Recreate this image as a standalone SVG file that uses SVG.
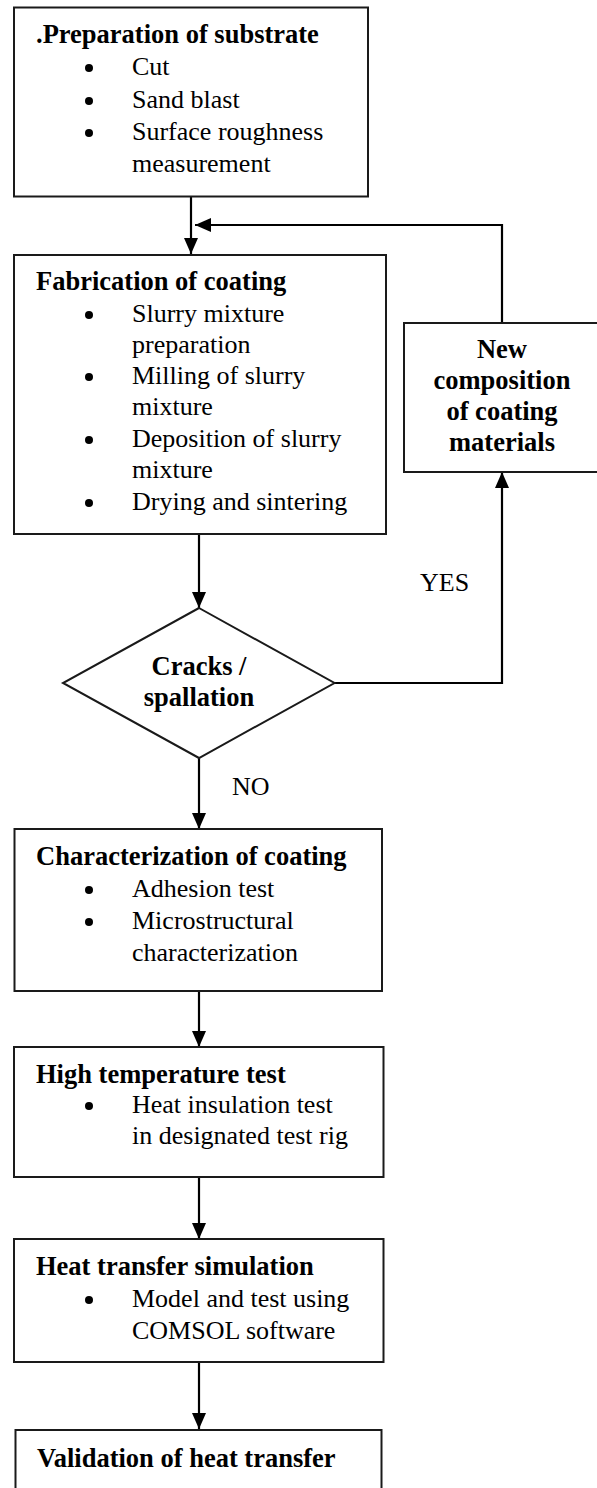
<svg xmlns="http://www.w3.org/2000/svg" width="597" height="1488" viewBox="0 0 597 1488">
<style>
.box{fill:#fff;stroke:#1a1a1a;stroke-width:2}
.ln{fill:none;stroke:#000;stroke-width:2.2}
.t{font-family:"Liberation Serif","Times New Roman",serif;font-size:26px;fill:#000}
.b{font-family:"Liberation Serif","Times New Roman",serif;font-size:26.5px;font-weight:bold;fill:#000}
.c{text-anchor:middle}
.dot{fill:#000}
</style>
<defs>
<marker id="ah" viewBox="0 0 16 14" refX="16" refY="7" markerWidth="16" markerHeight="14" markerUnits="userSpaceOnUse" orient="auto">
<path d="M0,0 L16,7 L0,14 Z" fill="#000"/>
</marker>
</defs>
<rect width="597" height="1488" fill="#fff"/>

<g id="connectors">
<line class="ln" x1="191" y1="197" x2="191" y2="254" marker-end="url(#ah)"/>
<polyline class="ln" points="502,323 502,225 195,225" marker-end="url(#ah)"/>
<line class="ln" x1="199" y1="534" x2="199" y2="608" marker-end="url(#ah)"/>
<polyline class="ln" points="334.5,683 502,683 502,472" marker-end="url(#ah)"/>
<line class="ln" x1="199" y1="758" x2="199" y2="829" marker-end="url(#ah)"/>
<line class="ln" x1="199" y1="991" x2="199" y2="1047" marker-end="url(#ah)"/>
<line class="ln" x1="199" y1="1177" x2="199" y2="1239" marker-end="url(#ah)"/>
<line class="ln" x1="199" y1="1362" x2="199" y2="1429" marker-end="url(#ah)"/>
<text class="t" x="420" y="591">YES</text>
<text class="t" x="232" y="795">NO</text>
</g>

<g id="node-preparation">
<rect class="box" x="14" y="7.5" width="354" height="189"/>
<text class="b" x="36" y="43">.Preparation of substrate</text>
<circle class="dot" cx="89" cy="68" r="4"/>
<text class="t" x="132" y="75">Cut</text>
<circle class="dot" cx="89" cy="101" r="4"/>
<text class="t" x="132" y="108">Sand blast</text>
<circle class="dot" cx="89" cy="133" r="4"/>
<text class="t" x="132" y="140">Surface roughness</text>
<text class="t" x="132" y="172">measurement</text>
</g>

<g id="node-fabrication">
<rect class="box" x="14" y="255" width="372" height="279"/>
<text class="b" x="36" y="290">Fabrication of coating</text>
<circle class="dot" cx="89" cy="315" r="4"/>
<text class="t" x="132" y="322">Slurry mixture</text>
<text class="t" x="132" y="353">preparation</text>
<circle class="dot" cx="89" cy="377" r="4"/>
<text class="t" x="132" y="384">Milling of slurry</text>
<text class="t" x="132" y="415">mixture</text>
<circle class="dot" cx="89" cy="440" r="4"/>
<text class="t" x="132" y="447">Deposition of slurry</text>
<text class="t" x="132" y="478">mixture</text>
<circle class="dot" cx="89" cy="503" r="4"/>
<text class="t" x="132" y="510">Drying and sintering</text>
</g>

<g id="node-new-composition">
<rect class="box" x="404" y="323" width="220" height="149"/>
<text class="b c" x="502" y="358">New</text>
<text class="b c" x="502" y="389">composition</text>
<text class="b c" x="502" y="420">of coating</text>
<text class="b c" x="502" y="451">materials</text>
</g>

<g id="node-cracks">
<polygon class="box" points="199,608 334.5,683 199,758 63,683"/>
<text class="b c" x="199" y="675">Cracks /</text>
<text class="b c" x="199" y="706">spallation</text>
</g>

<g id="node-characterization">
<rect class="box" x="14.5" y="829" width="367.5" height="162"/>
<text class="b" x="36" y="865">Characterization of coating</text>
<circle class="dot" cx="89" cy="890" r="4"/>
<text class="t" x="132" y="897">Adhesion test</text>
<circle class="dot" cx="89" cy="922" r="4"/>
<text class="t" x="132" y="929">Microstructural</text>
<text class="t" x="132" y="961">characterization</text>
</g>

<g id="node-high-temp">
<rect class="box" x="14" y="1047" width="369.5" height="130"/>
<text class="b" x="36" y="1083">High temperature test</text>
<circle class="dot" cx="89" cy="1106" r="4"/>
<text class="t" x="132" y="1113">Heat insulation test</text>
<text class="t" x="132" y="1144">in designated test rig</text>
</g>

<g id="node-simulation">
<rect class="box" x="14" y="1239" width="369.5" height="123"/>
<text class="b" x="36" y="1275">Heat transfer simulation</text>
<circle class="dot" cx="89" cy="1300" r="4"/>
<text class="t" x="132" y="1307">Model and test using</text>
<text class="t" x="132" y="1339">COMSOL software</text>
</g>

<g id="node-validation">
<rect class="box" x="15.5" y="1430" width="366" height="80"/>
<text class="b" x="37" y="1467">Validation of heat transfer</text>
</g>
</svg>
